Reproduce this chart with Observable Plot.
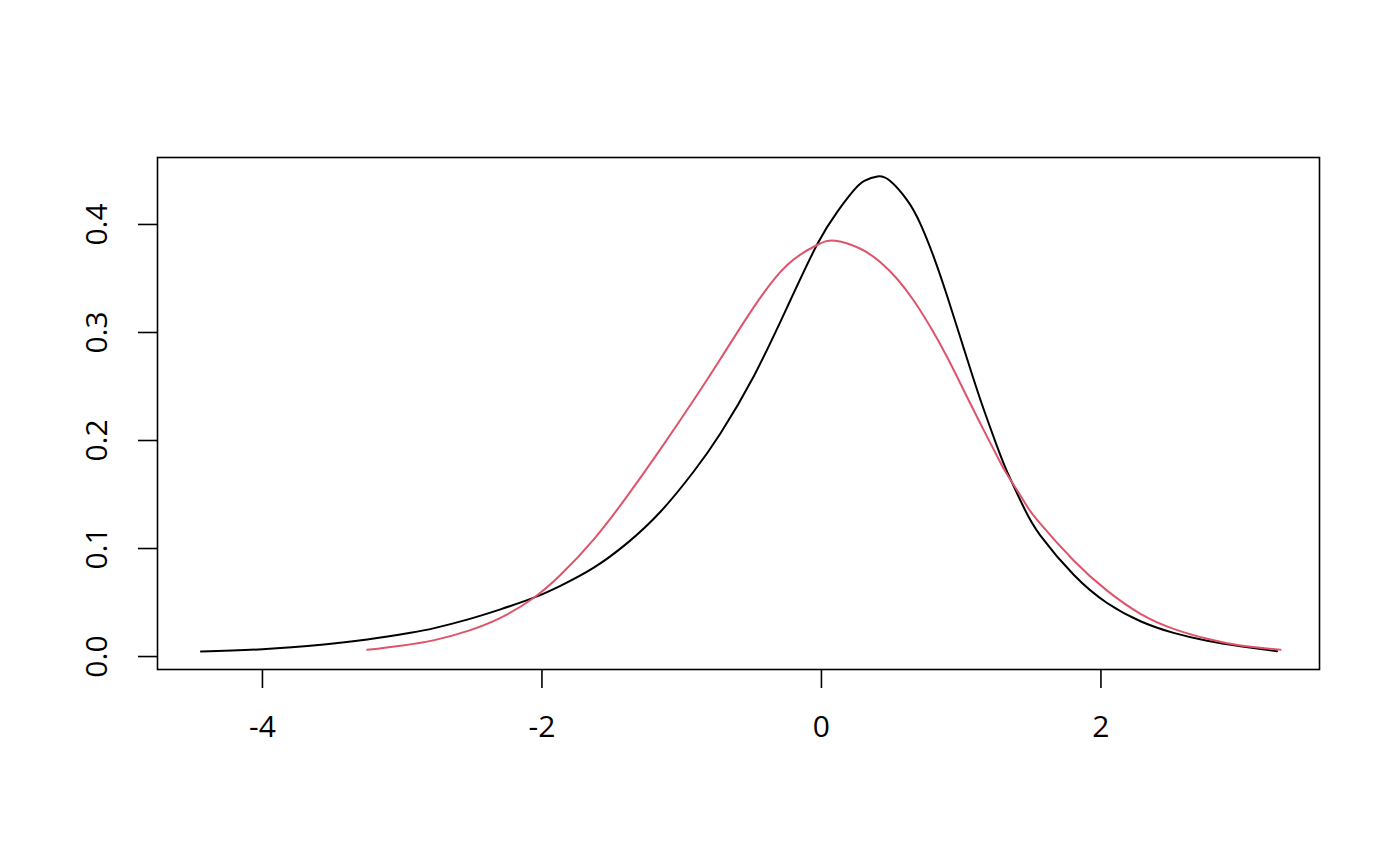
<!DOCTYPE html>
<html>
<head>
<meta charset="utf-8">
<script src="https://cdn.jsdelivr.net/npm/d3@7"></script>
<script src="https://cdn.jsdelivr.net/npm/@observablehq/plot@0.6"></script>
<style>
  html, body { margin: 0; padding: 0; background: #fff; }
  svg { display: block; }
</style>
</head>
<body>
<div id="chart"></div>
<script>
// Black curve (x, density)
const blackX = [-4.44, -4.0, -3.56, -3.25, -2.94, -2.77, -2.535, -2.297, -2.063, -1.868, -1.629, -1.39, -1.152, -0.914, -0.723, -0.484, -0.245, -0.031, 0.112, 0.231, 0.31, 0.4, 0.49, 0.613, 0.708, 0.804, 0.9, 1.018, 1.138, 1.257, 1.329, 1.45, 1.567, 1.805, 2.044, 2.283, 2.52, 2.76, 2.998, 3.26];
const blackY = [0.0046, 0.0068, 0.0112, 0.0158, 0.0220, 0.0263, 0.0342, 0.0437, 0.0543, 0.0655, 0.0823, 0.1050, 0.1340, 0.1713, 0.2065, 0.2595, 0.3235, 0.3815, 0.4115, 0.4315, 0.4405, 0.4445, 0.4405, 0.4225, 0.4006, 0.3698, 0.3335, 0.2855, 0.2375, 0.1945, 0.171, 0.1375, 0.112, 0.0757, 0.0496, 0.0327, 0.0219, 0.0146, 0.0096, 0.0050];
// Red curve (x, density)
const redX = [-3.25, -3.01, -2.77, -2.535, -2.297, -2.063, -1.868, -1.629, -1.39, -1.152, -0.914, -0.723, -0.484, -0.245, -0.031, 0.1, 0.279, 0.422, 0.542, 0.66, 0.78, 0.9, 1.018, 1.138, 1.257, 1.329, 1.45, 1.543, 1.805, 2.044, 2.283, 2.52, 2.76, 2.998, 3.285];
const redY = [0.0062, 0.0100, 0.0152, 0.0235, 0.0358, 0.054, 0.0755, 0.1085, 0.1485, 0.192, 0.2375, 0.2755, 0.3235, 0.3625, 0.381, 0.385, 0.3775, 0.365, 0.3495, 0.3296, 0.305, 0.277, 0.2465, 0.2155, 0.1855, 0.1685, 0.1435, 0.1265, 0.0889, 0.061, 0.0395, 0.0256, 0.0164, 0.0102, 0.0062];
// Tick labels
const xTicks = [-4, -2, 0, 2];
const yTicks = [0.0, 0.1, 0.2, 0.3, 0.4];

const black = blackX.map((x, i) => ({x, y: blackY[i]}));
const red = redX.map((x, i) => ({x, y: redY[i]}));

const chart = Plot.plot({
  width: 1400,
  height: 866,
  marginLeft: 157,
  marginRight: 81,
  marginTop: 157,
  marginBottom: 197,
  style: {fontFamily: "'Open Sans', 'Noto Sans', sans-serif", background: "#fff", color: "#000"},
  x: {domain: [-4.751, 3.564]},
  y: {domain: [-0.012, 0.462]},
  marks: [
    Plot.frame({stroke: "#000", strokeWidth: 1.6}),
    Plot.axisX({ticks: xTicks, tickSize: 19, tickPadding: 27, fontSize: 30, tickFormat: d => String(d).replace("\u2212", "-"), stroke: "#000", strokeWidth: 1.6, label: null}),
    Plot.axisY({ticks: yTicks, tickSize: 19, tickPadding: 32, fontSize: 30, tickRotate: -90, tickFormat: d => d.toFixed(1), stroke: "#000", strokeWidth: 1.6, label: null}),
    Plot.line(black, {x: "x", y: "y", stroke: "#000", strokeWidth: 2, curve: "natural"}),
    Plot.line(red, {x: "x", y: "y", stroke: "#DF536B", strokeWidth: 2, curve: "natural"})
  ]
});
document.getElementById("chart").appendChild(chart);
</script>
</body>
</html>
